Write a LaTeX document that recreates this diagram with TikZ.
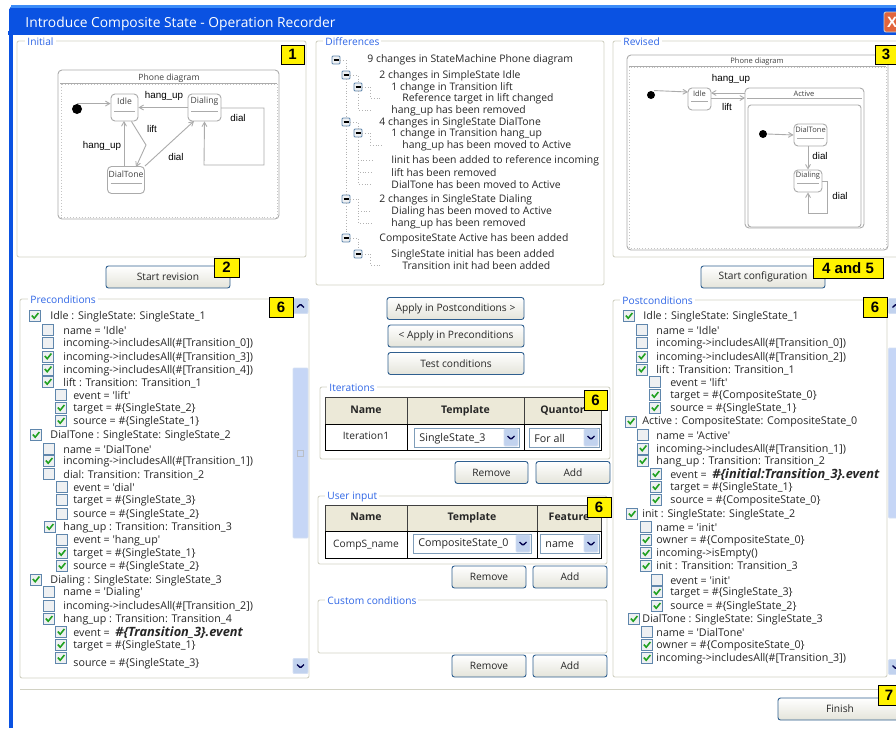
\documentclass[tikz,border=0pt]{standalone}
\usepackage{fontspec}
\usetikzlibrary{arrows}
\newfontfamily\uifont{Open Sans}
\newfontfamily\arialfont{Liberation Sans}
\definecolor{barblue}{HTML}{0A52E2}
\definecolor{barlight}{HTML}{3C8CF8}
\definecolor{legendblue}{HTML}{2F66E6}
\definecolor{framegrey}{HTML}{D2D2C4}
\definecolor{btnborder}{HTML}{2F5F8F}
\definecolor{btnbottom}{HTML}{E4E4DA}
\definecolor{chkborder}{HTML}{5F86AC}
\definecolor{chkfill}{HTML}{EEF0F2}
\definecolor{chkgreen}{HTML}{21A121}
\definecolor{headfill}{HTML}{ECE9D8}
\definecolor{comboborder}{HTML}{7F9DB9}
\definecolor{combobtn}{HTML}{C1D2EE}
\definecolor{thumbblue}{HTML}{C6D6F6}
\definecolor{stateline}{HTML}{ABABAB}
\definecolor{closered}{HTML}{E2653C}
\begin{document}
\begin{tikzpicture}[x=1pt,y=-1pt,>=angle 60,line width=0.9pt]
  \tikzstyle{every node}=[font=\uifont\fontsize{10.2}{12}\selectfont,text=black!85,inner sep=0pt]
  \tikzstyle{frame}=[draw=framegrey,rounded corners=2pt]
  \tikzstyle{legend}=[anchor=west,fill=white,inner xsep=2pt,text=legendblue,yshift=-0.8pt]
  \tikzstyle{btn}=[draw=btnborder,rounded corners=2.5pt,top color=white,bottom color=btnbottom]
  \tikzstyle{tag}=[draw=black,fill=yellow,font=\arialfont\bfseries\fontsize{15}{17}\selectfont,text=black]
  \tikzstyle{rowtext}=[anchor=west,font=\uifont\fontsize{10.7}{12}\selectfont,yshift=-0.8pt]
  \tikzstyle{treetext}=[anchor=west,font=\uifont\fontsize{10.4}{12}\selectfont,yshift=-0.8pt]
  \tikzstyle{chkoff}=[draw=chkborder,fill=chkfill,minimum size=11pt]
  \tikzstyle{chkon}=[chkoff,path picture={\draw[chkgreen,line width=1.6pt]
      (path picture bounding box.center) +(-3.2,-0.5) -- +(-0.8,2.2) -- +(3.4,-3);}]
  \tikzstyle{expander}=[draw=chkborder,fill=chkfill,minimum size=8pt,rounded corners=1pt,
      path picture={\draw[black,line width=1.2pt] (path picture bounding box.center) +(-2.5,0) -- +(2.5,0);}]
  \tikzstyle{treedots}=[dotted,line width=0.8pt,draw=black!30]
  \tikzstyle{state}=[draw=stateline,rounded corners=4pt,fill=white]
  \tikzstyle{statename}=[font=\uifont\fontsize{8.6}{10}\selectfont,text=black!75]
  \tikzstyle{statesmall}=[font=\uifont\fontsize{7.5}{9}\selectfont,text=black!75]
  \tikzstyle{arr}=[->,draw=stateline]
  \tikzstyle{lab}=[font=\arialfont\fontsize{9.8}{12}\selectfont,text=black]
  \tikzstyle{headcell}=[draw=black!75,fill=headfill,font=\uifont\bfseries\fontsize{10.5}{12}\selectfont,text depth=2pt]
  \tikzstyle{cell}=[draw=black,fill=white,text depth=2pt]
  \tikzstyle{combo}=[draw=comboborder,fill=white]
  \tikzstyle{chevdown}=[draw=combobtn!70!white,fill=combobtn,rounded corners=1pt,
      path picture={\draw[black!70!blue,line width=1.3pt] (path picture bounding box.center) +(-3.5,-1.5) -- +(0,1.8) -- +(3.5,-1.5);}]
  \tikzstyle{chevup}=[draw=combobtn!70!white,fill=combobtn,rounded corners=1pt,
      path picture={\draw[black!70!blue,line width=1.3pt] (path picture bounding box.center) +(-3.5,1.5) -- +(0,-1.8) -- +(3.5,1.5);}]
  \tikzstyle{thumb}=[draw=combobtn!70!white,fill=thumbblue,rounded corners=1pt]
  \tikzstyle{grip}=[draw=combobtn!60!black!50,fill=thumbblue,minimum size=6pt]
  \newcommand{\biggerbold}{\bfseries\itshape\fontsize{12.8}{12}\selectfont}

\useasboundingbox (0,0) rectangle (896,728);
\clip (0,0) rectangle (896,728);

% window
\fill[barblue] (9,34) -- (9,9) to[out=-90,in=180] (13,5) -- (896,5) -- (896,34) -- cycle;
\fill[barlight] (11,5) rectangle (896,8);
\fill[barblue] (8,31) rectangle (896,35);
\fill[barblue] (9,34) rectangle (12.5,728);
\node [anchor=west,text=white,font=\uifont\fontsize{13.8}{15}\selectfont] (title) at (25,23.5) {Introduce Composite State - Operation Recorder};
\node [draw=white!80!black,fill=closered,rounded corners=2pt,minimum width=16pt,minimum height=20pt,
       text=white,font=\arialfont\bfseries\fontsize{15}{17}\selectfont] (close) at (892,22) {X};

% group boxes
\foreach \id/\xa/\ya/\xb/\yb/\lx/\txt in {
    grinit/17/41/306/257/25/Initial,
    grdiff/316/41/604/285/323/Differences,
    grrev/613/41/900/257/621/Revised,
    grpre/20/299/309/678/28/Preconditions,
    griter/320/387/610/459/327/Iterations,
    gruser/318/496/607/564/325/User input,
    grcust/318/600/607/653/325/Custom conditions,
    grpost/613/300/887/677/620/Postconditions} {
  \draw[frame] (\xa,\ya) rectangle (\xb,\yb);
  \node [legend] (\id) at (\lx,\ya) {\txt};
}
\draw[framegrey] (20,689) -- (896,689);

% initial diagram
\draw[stateline,rounded corners=4pt,fill=white] (58,70) rectangle (279,219);
\node [statename] (phonea) at (169,78) {Phone diagram};
\draw[stateline] (60,83) -- (277,83);
\draw[stateline!70,dotted] (61,84) rectangle (277,217);
\foreach \id/\cx/\cy/\w/\h/\ly/\txt in {
    idlea/124.5/107.5/27/27/111/Idle,
    dialinga/204.5/107.5/33/27/111/Dialing,
    dialtonea/126/180/37/27/183/DialTone} {
  \node [state,minimum width=\w,minimum height=\h] (\id) at (\cx,\cy) {};
  \draw[stateline] (\cx-\w/2+3,\ly) -- (\cx+\w/2-3,\ly);
  \node [statename] at (\cx,\cy-6) {\txt};
}
\node [circle,fill=black,minimum size=10pt] (dota) at (77,109) {};
\coordinate (lifta) at (146,145);
\coordinate (loopa) at (264,108);
\coordinate (loopb) at (264,165);
\draw [arr] (dota.north) -- (dota.north -| idlea.west);
\draw [arr] (dialinga.west) -- (idlea.east);
\draw [arr] (idlea.south east) ++(-7,0) -- (lifta) -- (136,167);
\draw [arr] (dialtonea.north) ++(-2,0) -- (124,121);
\draw [arr] (dialtonea.north east) -- (194,121);
\draw [arr] (221,108) -- (loopa) -- (loopb) -- (204,165) -- (dialinga.south);
\node [lab] (hanga) at (164,96) {hang\_up};
\node [lab] (lifta2) at (152,129) {lift};
\node [lab] (hangb) at (102,146) {hang\_up};
\node [lab] (diala) at (176,157) {dial};
\node [lab] (dialb) at (238,118) {dial};

% revised diagram
\draw[stateline,rounded corners=4pt,fill=white] (627,55) rectangle (888,250);
\node [statesmall] (phoneb) at (757,61.5) {Phone diagram};
\draw[stateline] (629,66) -- (886,66);
\draw[stateline!70,dotted] (629,67) rectangle (886,248);
\draw[stateline,rounded corners=4pt] (745,88) rectangle (864,228);
\node [statesmall] (activeb) at (804,94) {Active};
\draw[stateline] (747,98) -- (862,98);
\draw[stateline,rounded corners=3pt] (748,105) rectangle (861,227);
\foreach \id/\cx/\cy/\w/\h/\ly/\txt in {
    idleb/699.5/99/23/22/101/Idle,
    dialtoneb/810.5/135/33/22/138/DialTone,
    dialingb/808/181/28/22/183/Dialing} {
  \node [state,minimum width=\w,minimum height=\h] (\id) at (\cx,\cy) {};
  \draw[stateline] (\cx-\w/2+3,\ly) -- (\cx+\w/2-3,\ly);
  \node [statesmall] at (\cx,\cy-5) {\txt};
}
\node [circle,fill=black,minimum size=8pt] (dotb) at (651,95) {};
\node [circle,fill=black,minimum size=8pt] (dotc) at (763,134) {};
\coordinate (activew) at (745,93);
\coordinate (loopc) at (827,181);
\coordinate (loopd) at (827,213);
\draw [arr] (dotb.north) ++(3,0) -- (688,92);
\draw [arr] (activew) -- (711,93);
\draw [arr] (711,98) -- (745,98);
\draw [arr] (dotc.east) -- (dialtoneb.west);
\draw [arr] (808,146) -- (dialingb.north);
\draw [arr] (822,181) -- (loopc) -- (loopd) -- (808,213) -- (dialingb.south);
\node [lab] (hangc) at (731,79) {hang\_up};
\node [lab] (liftc) at (727,107) {lift};
\node [lab] (dialc) at (820,156) {dial};
\node [lab] (diald) at (840,196) {dial};

% differences tree
\foreach \x/\y/\txt [count=\i] in {
    367/59/9 changes in StateMachine Phone diagram,
    379/75/2 changes in SimpleState Idle,
    391/87/1 change in Transition lift,
    402/98/Reference target in lift changed,
    391/110/hang\_up has been removed,
    379/122/4 changes in SingleState DialTone,
    391/133/1 change in Transition hang\_up,
    402/145/hang\_up has been moved to Active,
    391/160/Iinit has been added to reference incoming,
    391/172/lift has been removed,
    391/184/DialTone has been moved to Active,
    379/199/2 changes in SingleState Dialing,
    391/211/Dialing has been moved to Active,
    391/223/hang\_up has been removed,
    379/238/CompositeState Active has been added,
    391/254/SingleState initial has been added,
    402/265/Transition init had been added} {
  \node [treetext] (t\i) at (\x,\y) {\txt};
}
\foreach \i/\x/\y in {0/336/60,1/346/75,2/358/87,3/346/122,4/358/133,5/346/199,6/346/238,7/358/254} {
  \node [expander] (e\i) at (\x,\y) {};
}
\foreach \i/\x/\y in {3/382/98,4/372/110,7/382/145,8/372/160,9/372/172,10/372/184,12/372/211,13/372/223,16/382/265} {
  \coordinate (d\i) at (\x,\y);
}
\draw [treedots] (e0.east) -| (e1.north);
\draw [treedots] (e1.south) -- (e3.north);
\draw [treedots] (e3.south) -- (e5.north);
\draw [treedots] (e5.south) -- (e6.north);
\draw [treedots] (e1.east) -| (e2.north);
\draw [treedots] (e3.east) -| (e4.north);
\draw [treedots] (e6.east) -| (e7.north);
\draw [treedots] (e2.south) |- (d4);
\draw [treedots] (e2.east) -- ++(8,0) |- (d3);
\draw [treedots] (e4.east) -- ++(8,0) |- (d7);
\draw [treedots] (e4.south) |- (d8);
\draw [treedots] (e4.south) |- (d9);
\draw [treedots] (e4.south) |- (d10);
\draw [treedots] (e5.east) -- ++(8,0) |- (d12);
\draw [treedots] (e5.east) -- ++(8,0) |- (d13);
\draw [treedots] (e7.east) -- ++(8,0) |- (d16);

% preconditions
\foreach \bx/\tx/\y/\st/\txt [count=\i] in {
    35/50/316/chkon/Idle : SingleState: SingleState\_1,
    48/63/329.5/chkoff/name = 'Idle',
    48/63/342.5/chkoff/incoming->includesAll(\#[Transition\_0]),
    48/63/356.5/chkon/incoming->includesAll(\#[Transition\_3]),
    48/63/369.5/chkon/incoming->includesAll(\#[Transition\_4]),
    48/63/382/chkon/lift : Transition: Transition\_1,
    61/73/395/chkoff/event = 'lift',
    61/73/408/chkon/target = \#\{SingleState\_2\},
    61/73/421/chkon/source = \#\{SingleState\_1\},
    36/50/435/chkon/DialTone : SingleState: SingleState\_2,
    49/63/448.5/chkoff/name = 'DialTone',
    49/63/461/chkon/incoming->includesAll(\#[Transition\_1]),
    49/63/474/chkoff/dial: Transition: Transition\_2,
    62/73/487/chkoff/event = 'dial',
    62/73/500/chkoff/target = \#\{SingleState\_3\},
    62/73/514/chkoff/source = \#\{SingleState\_2\},
    50/63/527/chkon/hang\_up : Transition: Transition\_3,
    62/73/540/chkoff/event = 'hang\_up',
    62/73/553/chkon/target = \#\{SingleState\_1\},
    62/73/566/chkon/source = \#\{SingleState\_2\},
    36/50/579.5/chkon/Dialing : SingleState: SingleState\_3,
    49/63/592/chkoff/name = 'Dialing',
    49/63/606/chkoff/incoming->includesAll(\#[Transition\_2]),
    49/63/619/chkon/hang\_up : Transition: Transition\_4,
    61/73/632/chkon/event = \ {\biggerbold\#\{Transition\_3\}.event},
    61/73/645/chkon/target = \#\{SingleState\_1\}} {
  \node [\st] (prebox\i) at (\bx,\y) {};
  \node [rowtext] (pre\i) at (\tx,\y) {\txt};
}
\node [chkon] (prebox27) at (61,658) {};
\node [rowtext] (pre27) at (73,663) {source = \#\{SingleState\_3\}};
\node [chevup,minimum width=15pt,minimum height=15pt] (preup) at (300.5,306) {};
\node [thumb,minimum width=15pt,minimum height=170pt] (prethumb) at (300.5,453) {};
\node [grip] (pregrip) at (300.5,453) {};
\node [chevdown,minimum width=15pt,minimum height=15pt] (predown) at (300.5,666) {};

% postconditions
\foreach \bx/\tx/\y/\st/\txt [count=\i] in {
    629/643/316/chkon/Idle : SingleState: SingleState\_1,
    642/656/329.5/chkoff/name = 'Idle',
    642/656/342.5/chkoff/incoming->includesAll(\#[Transition\_0]),
    642/656/356.5/chkon/incoming->includesAll(\#[Transition\_2]),
    642/656/369.5/chkon/lift : Transition: Transition\_1,
    655/670/382/chkoff/event = 'lift',
    655/670/395/chkon/target = \#\{CompositeState\_0\},
    655/670/408/chkon/source = \#\{SingleState\_1\},
    631/642/421.5/chkon/Active : CompositeState: CompositeState\_0,
    643/656/435/chkoff/name = 'Active',
    643/656/448.5/chkon/incoming->includesAll(\#[Transition\_1]),
    643/656/461/chkon/hang\_up : Transition: Transition\_2,
    656/670/474/chkon/event = \ {\biggerbold\#\{initial:Transition\_3\}.event},
    656/670/487/chkon/target = \#\{SingleState\_1\},
    656/670/500/chkon/source = \#\{CompositeState\_0\},
    632/642/514/chkon/init : SingleState: SingleState\_2,
    646/656/527/chkoff/name = 'init',
    646/656/540/chkon/owner = \#\{CompositeState\_0\},
    646/656/553/chkon/incoming->isEmpty(),
    646/656/566/chkon/init : Transition: Transition\_3,
    657/670/579.5/chkoff/event = 'init',
    657/670/592/chkon/target = \#\{SingleState\_3\},
    657/670/606/chkon/source = \#\{SingleState\_2\},
    634/642/619/chkon/DialTone : SingleState: SingleState\_3,
    647/656/632/chkoff/name = 'DialTone',
    647/656/645/chkon/owner = \#\{CompositeState\_0\},
    647/656/658/chkon/incoming->includesAll(\#[Transition\_3])} {
  \node [\st] (postbox\i) at (\bx,\y) {};
  \node [rowtext] (post\i) at (\tx,\y) {\txt};
}
\node [chevup,minimum width=15pt,minimum height=15pt] (postup) at (896,306) {};
\node [thumb,minimum width=15pt,minimum height=170pt] (postthumb) at (896,433) {};
\node [chevdown,minimum width=15pt,minimum height=15pt] (postdown) at (896,667) {};

% buttons
\foreach \id/\cx/\cy/\w/\txt in {
    brev/168/277/124/Start revision,
    bconf/763/277/124/Start configuration,
    bpost/455.5/308.5/137/Apply in Postconditions >,
    bprec/456/336/136/< Apply in Preconditions,
    btest/456/363.5/136/Test conditions,
    bremi/491.5/472.5/73/Remove,
    baddi/573/472.5/74/Add,
    bremu/489/577/74/Remove,
    baddu/570/577/74/Add,
    bremc/489/666/74/Remove,
    baddc/570/666/74/Add,
    bfin/840/709/124/Finish} {
  \node [btn,minimum width=\w,minimum height=22] (\id) at (\cx,\cy) {\txt};
}

% tables
\foreach \id/\cx/\w/\txt in {hia/366/82/Name,hib/465.5/117/Template,hic/562.5/77/Quantor} {
  \node [headcell,minimum width=\w,minimum height=27] (\id) at (\cx,410.5) {\txt};
}
\foreach \id/\cx/\w/\txt in {cia/366/82/Iteration1,cib/465.5/117/,cic/562.5/77/} {
  \node [cell,minimum width=\w,minimum height=26] (\id) at (\cx,437) {\txt};
}
\foreach \id/\cx/\w/\txt in {hua/366/82/Name,hub/472/130/Template,huc/569/64/Feature} {
  \node [headcell,minimum width=\w,minimum height=26] (\id) at (\cx,518) {\txt};
}
\foreach \id/\cx/\w/\txt in {cua/366/82/CompS\_name,cub/472/130/,cuc/569/64/} {
  \node [cell,minimum width=\w,minimum height=27] (\id) at (\cx,544.5) {\txt};
}
\foreach \id/\cx/\cy/\w/\lx/\txt in {
    coa/466.5/437.5/105/419/SingleState\_3,
    cob/564/437.5/70/534/For all,
    coc/472/543.5/118/418/CompositeState\_0,
    cod/569.5/543.5/59/545/name} {
  \node [combo,minimum width=\w,minimum height=19] (\id) at (\cx,\cy) {};
  \node [rowtext] (\id t) at (\lx,\cy) {\txt};
  \node [chevdown,minimum width=14,minimum height=17,anchor=east] (\id b) at ([xshift=-1pt]\id.east) {};
}

% tags
\foreach \id/\cx/\cy/\w/\h/\txt in {
    tagone/292.5/54.5/23/19/1,
    tagtwo/226.5/267.5/25/19/2,
    tagthree/886/54.5/22/19/3,
    tagfour/848/268/70/20/4 and 5,
    tagsixa/281/307/24/20/6,
    tagsixb/875/307/24/20/6,
    tagsixc/595.5/400/23/20/6,
    tagsixd/599/507/24/20/6,
    tagseven/889/695/21/20/7} {
  \node [tag,minimum width=\w,minimum height=\h] (\id) at (\cx,\cy) {\txt};
}
\end{tikzpicture}
\end{document}
